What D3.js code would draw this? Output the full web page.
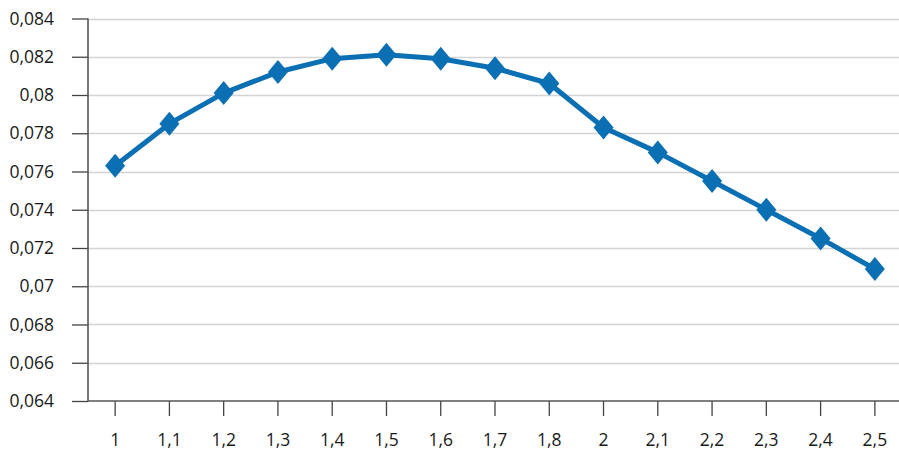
<!DOCTYPE html>
<html>
<head>
<meta charset="utf-8">
<script src="https://cdn.jsdelivr.net/npm/d3@7/dist/d3.min.js"></script>
<style>
  body { margin: 0; background: #fff; }
  text { font-family: "Open Sans", "Noto Sans", sans-serif; fill: #1a1a1a; }
</style>
</head>
<body>
<svg></svg>
<script>
var blue = "#0a6fb3";

// categories and values
var categories = ["1", "1,1", "1,2", "1,3", "1,4", "1,5", "1,6", "1,7", "1,8", "2", "2,1", "2,2", "2,3", "2,4", "2,5"];
var values = [0.0763, 0.0785, 0.0801, 0.0812, 0.0819, 0.0821, 0.0819, 0.0814, 0.0806, 0.0783, 0.0770, 0.0755, 0.0740, 0.0725, 0.0709];
var yTicks = [0.064, 0.066, 0.068, 0.07, 0.072, 0.074, 0.076, 0.078, 0.08, 0.082, 0.084];

var svgWidth = 899, svgHeight = 452;
var svg = d3.select("svg")
    .attr("width", svgWidth)
    .attr("height", svgHeight);

var plotLeft = 88, plotRight = 902, plotTop = 18.5, plotBottom = 401;

var xScale = d3.scaleBand()
    .domain(categories)
    .range([plotLeft, plotRight]);

var yScale = d3.scaleLinear()
    .domain([0.064, 0.084])
    .range([plotBottom, plotTop]);

// gridlines
svg.append("g")
    .selectAll("line")
    .data(yTicks.slice(1))
    .enter().append("line")
    .attr("x1", plotLeft)
    .attr("x2", svgWidth)
    .attr("y1", function(d) { return Math.round(yScale(d)) + 0.5; })
    .attr("y2", function(d) { return Math.round(yScale(d)) + 0.5; })
    .attr("stroke", "#d4d4d4")
    .attr("stroke-width", 1.3);

// y axis
var y_axis = d3.axisLeft(yScale)
    .tickValues(yTicks)
    .tickSize(16)
    .tickPadding(18)
    .tickFormat(function(d) { return String(+d.toFixed(3)).replace(".", ","); });

var gy = svg.append("g")
    .attr("transform", "translate(" + plotLeft + ",0)")
    .call(y_axis);
gy.select(".domain").remove();
gy.selectAll(".tick line").attr("stroke", "#444").attr("stroke-width", 1.3);
gy.selectAll("text").style("font-size", "17.5px").attr("fill", "#1a1a1a");

svg.append("line")
    .attr("x1", plotLeft).attr("x2", plotLeft)
    .attr("y1", plotTop).attr("y2", plotBottom)
    .attr("stroke", "#555").attr("stroke-width", 1.6);

// x axis
var x_axis = d3.axisBottom(xScale)
    .tickSize(15)
    .tickPadding(18);

var gx = svg.append("g")
    .attr("transform", "translate(0," + plotBottom + ")")
    .call(x_axis);
gx.select(".domain").remove();
gx.selectAll(".tick line").attr("stroke", "#444").attr("stroke-width", 1.3);
gx.selectAll("text").style("font-size", "17.5px").attr("fill", "#1a1a1a");

svg.append("line")
    .attr("x1", plotLeft).attr("x2", svgWidth)
    .attr("y1", plotBottom).attr("y2", plotBottom)
    .attr("stroke", "#555").attr("stroke-width", 1.6);

// line
var line = d3.line()
    .x(function(d, i) { return xScale(categories[i]) + xScale.bandwidth() / 2; })
    .y(function(d) { return yScale(d); });

svg.append("path")
    .datum(values)
    .attr("d", line)
    .attr("fill", "none")
    .attr("stroke", blue)
    .attr("stroke-width", 5)
    .attr("stroke-linejoin", "round");

// diamond markers
svg.append("g")
    .selectAll("path")
    .data(values)
    .enter().append("path")
    .attr("d", "M0,-12L10,0L0,12L-10,0Z")
    .attr("transform", function(d, i) {
        return "translate(" + (xScale(categories[i]) + xScale.bandwidth() / 2) + "," + yScale(d) + ")";
    })
    .attr("fill", blue);
</script>
</body>
</html>
